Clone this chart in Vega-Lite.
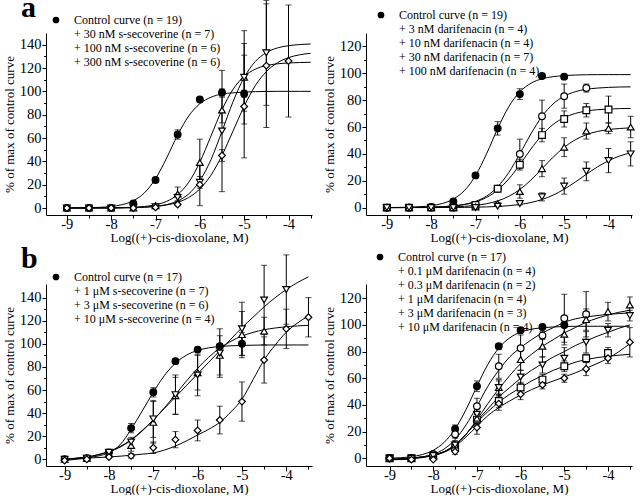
{
"$schema":"https://vega.github.io/schema/vega-lite/v6.json",
"background":"white",
"padding":{"left":3,"top":-8,"right":0,"bottom":0},
"config":{
 "view":{"stroke":null},
 "font":"Liberation Serif",
 "axis":{"labelFont":"Liberation Serif","titleFont":"Liberation Serif","labelFontSize":14.5,"titleFontSize":13,"titleFontWeight":"normal","labelColor":"black","titleColor":"black","domainColor":"black","tickColor":"black","tickWidth":1,"domainWidth":1,"grid":false},
 "axisX":{"labelPadding":-2.5,"titlePadding":0},
 "axisY":{"labelPadding":1,"titlePadding":3},
 "legend":{"labelFont":"Liberation Serif","labelFontSize":12,"labelColor":"black","symbolStrokeColor":"black","symbolStrokeWidth":1,"symbolSize":45,"rowPadding":2,"labelOffset":12,"labelLimit":400,"padding":0,"offset":0}
},
"datasets":{
"a1p":[
{"s":"c","x":-9,"y":0,"e":0},{"s":"c","x":-8.5,"y":0,"e":0},{"s":"c","x":-8,"y":0,"e":0},{"s":"c","x":-7.5,"y":4,"e":1.5},{"s":"c","x":-7,"y":24,"e":2},{"s":"c","x":-6.5,"y":63,"e":4},{"s":"c","x":-6,"y":93,"e":2},{"s":"c","x":-5.5,"y":99,"e":3},{"s":"c","x":-5,"y":98,"e":3},
{"s":"t","x":-9,"y":0,"e":0},{"s":"t","x":-8.5,"y":0,"e":0},{"s":"t","x":-8,"y":0,"e":0},{"s":"t","x":-7.5,"y":0,"e":0},{"s":"t","x":-7,"y":2,"e":1},{"s":"t","x":-6.5,"y":12,"e":6},{"s":"t","x":-6,"y":39,"e":20},{"s":"t","x":-5.5,"y":84,"e":11},{"s":"t","x":-5,"y":112,"e":40},
{"s":"v","x":-9,"y":0,"e":0},{"s":"v","x":-8.5,"y":0,"e":0},{"s":"v","x":-8,"y":0,"e":0},{"s":"v","x":-7.5,"y":0,"e":0},{"s":"v","x":-7,"y":1,"e":0},{"s":"v","x":-6.5,"y":9,"e":3},{"s":"v","x":-6,"y":22,"e":5},{"s":"v","x":-5.5,"y":66,"e":52},{"s":"v","x":-5,"y":112,"e":29},{"s":"v","x":-4.5,"y":133,"e":45},
{"s":"d","x":-9,"y":0,"e":0},{"s":"d","x":-8.5,"y":0,"e":0},{"s":"d","x":-8,"y":0,"e":0},{"s":"d","x":-7.5,"y":0,"e":0},{"s":"d","x":-7,"y":0.5,"e":0},{"s":"d","x":-6.5,"y":3,"e":1},{"s":"d","x":-6,"y":20,"e":18},{"s":"d","x":-5.5,"y":45,"e":5},{"s":"d","x":-5,"y":87,"e":44},{"s":"d","x":-4.5,"y":122,"e":53},{"s":"d","x":-4,"y":126,"e":48}
],
"a1f":[
{"x":-9,"c":0.05,"t":0,"v":0,"d":0.01},{"x":-8.75,"c":0.12,"t":0.01,"v":0.01,"d":0.02},{"x":-8.5,"c":0.26,"t":0.03,"v":0.02,"d":0.03},{"x":-8.25,"c":0.59,"t":0.07,"v":0.04,"d":0.06},{"x":-8,"c":1.31,"t":0.14,"v":0.07,"d":0.1},{"x":-7.75,"c":2.89,"t":0.29,"v":0.15,"d":0.2},{"x":-7.5,"c":6.25,"t":0.62,"v":0.32,"d":0.37},{"x":-7.25,"c":12.99,"t":1.3,"v":0.68,"d":0.72},{"x":-7,"c":25.06,"t":2.73,"v":1.41,"d":1.36},{"x":-6.75,"c":42.8,"t":5.67,"v":2.94,"d":2.59},{"x":-6.5,"c":62.6,"t":11.47,"v":6.03,"d":4.87},{"x":-6.25,"c":78.9,"t":22.1,"v":12.1,"d":9.05},{"x":-6,"c":89.4,"t":39.2,"v":23.3,"d":16.3},{"x":-5.75,"c":94.9,"t":61.6,"v":41.3,"d":28.1},{"x":-5.5,"c":97.7,"t":84.2,"v":65.7,"d":45.1},{"x":-5.25,"c":98.7,"t":101.8,"v":91.2,"d":66.1},{"x":-5,"c":99.4,"t":112.9,"v":111.9,"d":87.2},{"x":-4.75,"c":99.7,"t":119,"v":125.5,"d":104.8},{"x":-4.5,"c":99.9,"t":122.1,"v":133.2,"d":116.9},{"x":-4.25,"c":100,"t":123.6,"v":137.2,"d":124.5},{"x":-4,"c":100,"t":124.3,"v":139.1,"d":128.9},{"x":-3.75,"c":100,"t":124.7,"v":140.1,"d":131.3},{"x":-3.5,"c":100,"t":124.9,"v":140.6,"d":132.6}
],
"a2p":[
{"s":"c","x":-9,"y":0,"e":0},{"s":"c","x":-8.5,"y":0,"e":0},{"s":"c","x":-8,"y":0.5,"e":0},{"s":"c","x":-7.5,"y":4.5,"e":1},{"s":"c","x":-7,"y":24,"e":1.5},{"s":"c","x":-6.5,"y":59,"e":5},{"s":"c","x":-6,"y":84.5,"e":4},{"s":"c","x":-5.5,"y":98,"e":1},{"s":"c","x":-5,"y":97.5,"e":1},
{"s":"o","x":-9,"y":0,"e":0},{"s":"o","x":-8.5,"y":0,"e":0},{"s":"o","x":-8,"y":0,"e":0},{"s":"o","x":-7.5,"y":0,"e":0},{"s":"o","x":-7,"y":2,"e":0},{"s":"o","x":-6.5,"y":14,"e":2},{"s":"o","x":-6,"y":40,"e":11},{"s":"o","x":-5.5,"y":68,"e":12},{"s":"o","x":-5,"y":83,"e":9},{"s":"o","x":-4.5,"y":89,"e":3},
{"s":"q","x":-9,"y":0,"e":0},{"s":"q","x":-8.5,"y":0,"e":0},{"s":"q","x":-8,"y":0,"e":0},{"s":"q","x":-7.5,"y":0,"e":0},{"s":"q","x":-7,"y":2,"e":0},{"s":"q","x":-6.5,"y":14,"e":2},{"s":"q","x":-6,"y":32,"e":4},{"s":"q","x":-5.5,"y":54,"e":5},{"s":"q","x":-5,"y":66,"e":6},{"s":"q","x":-4.5,"y":72.5,"e":5},{"s":"q","x":-4,"y":73,"e":10},
{"s":"t","x":-9,"y":0,"e":0},{"s":"t","x":-8.5,"y":0,"e":0},{"s":"t","x":-8,"y":0,"e":0},{"s":"t","x":-7.5,"y":0,"e":0},{"s":"t","x":-7,"y":0.5,"e":0},{"s":"t","x":-6.5,"y":3,"e":1},{"s":"t","x":-6,"y":12,"e":5},{"s":"t","x":-5.5,"y":29,"e":6},{"s":"t","x":-5,"y":45,"e":7},{"s":"t","x":-4.5,"y":57,"e":6},{"s":"t","x":-4,"y":59,"e":4},{"s":"t","x":-3.5,"y":60,"e":8},
{"s":"v","x":-9,"y":0,"e":0},{"s":"v","x":-8.5,"y":0,"e":0},{"s":"v","x":-8,"y":0,"e":0},{"s":"v","x":-7.5,"y":0,"e":0},{"s":"v","x":-7,"y":0,"e":0},{"s":"v","x":-6.5,"y":1,"e":0},{"s":"v","x":-6,"y":3,"e":1},{"s":"v","x":-5.5,"y":8,"e":3},{"s":"v","x":-5,"y":16,"e":6},{"s":"v","x":-4.5,"y":27,"e":7},{"s":"v","x":-4,"y":35,"e":9},{"s":"v","x":-3.5,"y":40,"e":9}
],
"a2f":[
{"x":-9,"c":0.07,"o":0.02,"q":0.03,"t":0.02,"v":0},{"x":-8.75,"c":0.15,"o":0.04,"q":0.05,"t":0.03,"v":0.01},{"x":-8.5,"c":0.32,"o":0.09,"q":0.1,"t":0.05,"v":0.01},{"x":-8.25,"c":0.68,"o":0.17,"q":0.19,"t":0.09,"v":0.02},{"x":-8,"c":1.44,"o":0.33,"q":0.35,"t":0.17,"v":0.04},{"x":-7.75,"c":3.05,"o":0.64,"q":0.67,"t":0.3,"v":0.07},{"x":-7.5,"c":6.35,"o":1.25,"q":1.24,"t":0.53,"v":0.11},{"x":-7.25,"c":12.7,"o":2.41,"q":2.31,"t":0.94,"v":0.18},{"x":-7,"c":23.8,"o":4.62,"q":4.23,"t":1.66,"v":0.31},{"x":-6.75,"c":40.1,"o":8.62,"q":7.57,"t":2.91,"v":0.52},{"x":-6.5,"c":58.8,"o":15.5,"q":13.1,"t":5.02,"v":0.86},{"x":-6.25,"c":75.1,"o":26.1,"q":21.3,"t":8.4,"v":1.43},{"x":-6,"c":86.2,"o":40,"q":32,"t":13.5,"v":2.34},{"x":-5.75,"c":92.6,"o":54.9,"q":43.6,"t":20.5,"v":3.8},{"x":-5.5,"c":95.9,"o":67.9,"q":54,"t":29,"v":6.03},{"x":-5.25,"c":97.5,"o":77.2,"q":61.9,"t":37.5,"v":9.28},{"x":-5,"c":98.3,"o":83,"q":67,"t":44.9,"v":13.7},{"x":-4.75,"c":98.7,"o":86.3,"q":70.1,"t":50.5,"v":19},{"x":-4.5,"c":98.9,"o":88.1,"q":71.9,"t":54.3,"v":24.8},{"x":-4.25,"c":99,"o":89,"q":72.9,"t":56.7,"v":30.3},{"x":-4,"c":99,"o":89.5,"q":73.4,"t":58.1,"v":34.9},{"x":-3.75,"c":99,"o":89.8,"q":73.7,"t":58.9,"v":38.4},{"x":-3.5,"c":99,"o":89.9,"q":73.8,"t":59.4,"v":40.8}
],
"b1p":[
{"s":"c","x":-9,"y":0,"e":0},{"s":"c","x":-8.5,"y":1,"e":0},{"s":"c","x":-8,"y":6,"e":1},{"s":"c","x":-7.5,"y":27,"e":4},{"s":"c","x":-7,"y":58,"e":4},{"s":"c","x":-6.5,"y":85,"e":1},{"s":"c","x":-6,"y":95,"e":1},{"s":"c","x":-5.5,"y":98,"e":2},{"s":"c","x":-5,"y":100,"e":10},
{"s":"t","x":-9,"y":0,"e":0},{"s":"t","x":-8.5,"y":1,"e":0},{"s":"t","x":-8,"y":5,"e":1},{"s":"t","x":-7.5,"y":12,"e":5},{"s":"t","x":-7,"y":32,"e":18},{"s":"t","x":-6.5,"y":55,"e":16},{"s":"t","x":-6,"y":75,"e":15},{"s":"t","x":-5.5,"y":90,"e":17},{"s":"t","x":-5,"y":108,"e":20},{"s":"t","x":-4.5,"y":111,"e":12},
{"s":"v","x":-9,"y":0,"e":0},{"s":"v","x":-8.5,"y":1,"e":0},{"s":"v","x":-8,"y":6,"e":1},{"s":"v","x":-7.5,"y":15,"e":4},{"s":"v","x":-7,"y":35,"e":16},{"s":"v","x":-6.5,"y":56,"e":17},{"s":"v","x":-6,"y":73,"e":18},{"s":"v","x":-5.5,"y":92,"e":21},{"s":"v","x":-5,"y":113,"e":23},{"s":"v","x":-4.5,"y":138,"e":30},{"s":"v","x":-4,"y":147,"e":30},
{"s":"d","x":-9,"y":-1,"e":0},{"s":"d","x":-8.5,"y":0,"e":0},{"s":"d","x":-8,"y":2,"e":1},{"s":"d","x":-7.5,"y":3,"e":2},{"s":"d","x":-7,"y":10,"e":5},{"s":"d","x":-6.5,"y":17,"e":7},{"s":"d","x":-6,"y":25,"e":9},{"s":"d","x":-5.5,"y":34,"e":12},{"s":"d","x":-5,"y":50,"e":17},{"s":"d","x":-4.5,"y":86,"e":20},{"s":"d","x":-4,"y":113,"e":17},{"s":"d","x":-3.5,"y":123,"e":17}
],
"b1f":[
{"x":-9,"c":0,"t":0,"v":0,"d":-1},{"x":-8.75,"c":0.5,"t":0.8,"v":1,"d":0},{"x":-8.5,"c":1.3,"t":2,"v":2,"d":1},{"x":-8.25,"c":2.8,"t":3.8,"v":4,"d":1.5},{"x":-8,"c":5.8,"t":6.5,"v":7,"d":2},{"x":-7.75,"c":12.5,"t":10.5,"v":11,"d":2.7},{"x":-7.5,"c":26,"t":16.5,"v":17,"d":3.5},{"x":-7.25,"c":41.8,"t":24.5,"v":25,"d":4.5},{"x":-7,"c":58,"t":34.1,"v":34,"d":5.5},{"x":-6.75,"c":72.5,"t":44.6,"v":44,"d":8},{"x":-6.5,"c":83.3,"t":56.1,"v":54,"d":11.5},{"x":-6.25,"c":90.2,"t":67.9,"v":64,"d":16},{"x":-6,"c":94.3,"t":78.8,"v":74,"d":21},{"x":-5.75,"c":96.5,"t":88.4,"v":84,"d":26},{"x":-5.5,"c":97.7,"t":96.2,"v":94,"d":32},{"x":-5.25,"c":98.3,"t":102.2,"v":104,"d":41},{"x":-5,"c":98.6,"t":106.7,"v":114,"d":52},{"x":-4.75,"c":98.8,"t":109.9,"v":123,"d":69},{"x":-4.5,"c":99,"t":112.2,"v":132,"d":86},{"x":-4.25,"c":99,"t":113.7,"v":140,"d":99},{"x":-4,"c":99,"t":114.8,"v":147,"d":110},{"x":-3.75,"c":99,"t":115.5,"v":153,"d":118},{"x":-3.5,"c":99,"t":116,"v":158,"d":124}
],
"b2p":[
{"s":"c","x":-9,"y":0,"e":0},{"s":"c","x":-8.5,"y":0,"e":0},{"s":"c","x":-8,"y":3,"e":0},{"s":"c","x":-7.5,"y":22,"e":3},{"s":"c","x":-7,"y":54,"e":4},{"s":"c","x":-6.5,"y":84,"e":2},{"s":"c","x":-6,"y":96,"e":1},{"s":"c","x":-5.5,"y":98.5,"e":1},{"s":"c","x":-5,"y":100,"e":2},
{"s":"o","x":-9,"y":0,"e":0},{"s":"o","x":-8.5,"y":0,"e":0},{"s":"o","x":-8,"y":3,"e":0},{"s":"o","x":-7.5,"y":18,"e":3},{"s":"o","x":-7,"y":39,"e":6},{"s":"o","x":-6.5,"y":69,"e":9},{"s":"o","x":-6,"y":82.5,"e":10},{"s":"o","x":-5.5,"y":92,"e":3},{"s":"o","x":-5,"y":105,"e":18},{"s":"o","x":-4.5,"y":108,"e":17},
{"s":"q","x":-9,"y":0,"e":0},{"s":"q","x":-8.5,"y":0,"e":0},{"s":"q","x":-8,"y":2,"e":0},{"s":"q","x":-7.5,"y":8,"e":3},{"s":"q","x":-7,"y":29,"e":4},{"s":"q","x":-6.5,"y":43,"e":5},{"s":"q","x":-6,"y":53,"e":4},{"s":"q","x":-5.5,"y":59,"e":4},{"s":"q","x":-5,"y":69,"e":4},{"s":"q","x":-4.5,"y":75,"e":3},{"s":"q","x":-4,"y":79,"e":4},
{"s":"t","x":-9,"y":0,"e":0},{"s":"t","x":-8.5,"y":0,"e":0},{"s":"t","x":-8,"y":2,"e":0},{"s":"t","x":-7.5,"y":10,"e":3},{"s":"t","x":-7,"y":30,"e":4},{"s":"t","x":-6.5,"y":53,"e":6},{"s":"t","x":-6,"y":74,"e":8},{"s":"t","x":-5.5,"y":84,"e":8},{"s":"t","x":-5,"y":93,"e":8},{"s":"t","x":-4.5,"y":104,"e":8},{"s":"t","x":-4,"y":110,"e":7},{"s":"t","x":-3.5,"y":115,"e":6},
{"s":"v","x":-9,"y":0,"e":0},{"s":"v","x":-8.5,"y":0,"e":0},{"s":"v","x":-8,"y":2,"e":0},{"s":"v","x":-7.5,"y":10,"e":3},{"s":"v","x":-7,"y":33,"e":4},{"s":"v","x":-6.5,"y":53,"e":5},{"s":"v","x":-6,"y":61,"e":5},{"s":"v","x":-5.5,"y":70,"e":6},{"s":"v","x":-5,"y":75,"e":8},{"s":"v","x":-4.5,"y":87,"e":8},{"s":"v","x":-4,"y":96,"e":5},{"s":"v","x":-3.5,"y":107,"e":4},
{"s":"d","x":-9,"y":0,"e":0},{"s":"d","x":-8.5,"y":-1,"e":0},{"s":"d","x":-8,"y":-1,"e":0},{"s":"d","x":-7.5,"y":5,"e":2},{"s":"d","x":-7,"y":23,"e":5},{"s":"d","x":-6.5,"y":41,"e":5},{"s":"d","x":-6,"y":48,"e":4},{"s":"d","x":-5.5,"y":55,"e":3},{"s":"d","x":-5,"y":60,"e":3},{"s":"d","x":-4.5,"y":67,"e":5},{"s":"d","x":-4,"y":75,"e":4},{"s":"d","x":-3.5,"y":87,"e":11}
],
"b2f":[
{"x":-9,"c":0,"o":-1,"q":-1,"t":-1,"v":-1,"d":-1},{"x":-8.75,"c":0.4,"o":-0.5,"q":-0.5,"t":-0.5,"v":-0.5,"d":-1},{"x":-8.5,"c":1.2,"o":0,"q":0,"t":0,"v":0,"d":-0.5},{"x":-8.25,"c":2.8,"o":1,"q":1,"t":1,"v":1,"d":0.5},{"x":-8,"c":6,"o":3,"q":2.5,"t":2,"v":2.5,"d":2},{"x":-7.75,"c":12,"o":7,"q":5,"t":5,"v":5,"d":4.5},{"x":-7.5,"c":21.9,"o":14,"q":10,"t":10,"v":10,"d":9},{"x":-7.25,"c":36.5,"o":25,"q":18,"t":18,"v":18,"d":16},{"x":-7,"c":54,"o":39,"q":27,"t":29,"v":28,"d":24},{"x":-6.75,"c":70.4,"o":54,"q":35,"t":41,"v":37,"d":32},{"x":-6.5,"c":82.6,"o":66,"q":42,"t":52,"v":46,"d":38},{"x":-6.25,"c":90.3,"o":76,"q":48,"t":62,"v":53,"d":43},{"x":-6,"c":94.6,"o":83,"q":53,"t":71,"v":60,"d":47.5},{"x":-5.75,"c":96.8,"o":89,"q":58,"t":78,"v":66,"d":51.5},{"x":-5.5,"c":97.9,"o":94,"q":62,"t":84,"v":71,"d":55},{"x":-5.25,"c":98.5,"o":98,"q":66,"t":89,"v":76,"d":58},{"x":-5,"c":98.8,"o":102,"q":69,"t":94,"v":80,"d":61},{"x":-4.75,"c":99,"o":104.5,"q":72,"t":98,"v":84.5,"d":64},{"x":-4.5,"c":99,"o":106,"q":74,"t":102,"v":88,"d":67.5},{"x":-4.25,"c":99,"o":107,"q":75.5,"t":105,"v":91.5,"d":71},{"x":-4,"c":99,"o":108,"q":76.5,"t":107.5,"v":94.5,"d":75},{"x":-3.75,"c":99,"o":108.5,"q":77.3,"t":109.5,"v":97.5,"d":80},{"x":-3.5,"c":99,"o":109,"q":78,"t":111,"v":100,"d":86}
]
},
"columns":2,
"spacing":{"row":69,"column":54},
"bounds":"flush",
"resolve":{"scale":{"x":"independent","y":"independent","shape":"independent","fill":"independent"},"legend":{"shape":"independent","fill":"independent"}},
"concat":[
{"width":266,"height":182,
 "title":{"text":"a","anchor":"start","frame":"group","dx":-25,"offset":-47,"baseline":"alphabetic","fontSize":30,"font":"Liberation Serif","fontWeight":"bold","color":"black"},
 "encoding":{
  "x":{"field":"x","type":"quantitative","scale":{"domain":[-9.47,-3.47],"nice":false,"zero":false},"axis":{"orient":"bottom","values":[-9,-8,-7,-6,-5,-4],"tickSize":5,"labelExpr":"'' + datum.value","title":"Log((+)-cis-dioxolane, M)"}},
  "y":{"field":"y","type":"quantitative","scale":{"domain":[-6,150],"nice":false,"zero":false},"axis":{"orient":"left","values":[0,20,40,60,80,100,120,140],"tickSize":4,"title":"% of max of control curve"}}},
 "layer":[
  {"data":{"name":"a1f"},"transform":[{"fold":["c","t","v","d"],"as":["s","y"]}],"mark":{"type":"line","color":"black","strokeWidth":1,"interpolate":"monotone"},"encoding":{"detail":{"field":"s"}}},
  {"data":{"name":"a1p"},"transform":[{"filter":"datum.e > 0"}],"mark":{"type":"errorbar","color":"black","ticks":{"size":6,"color":"black"},"rule":{"color":"black","strokeWidth":1}},"encoding":{"x":{"field":"x","type":"quantitative","axis":null},"y":{"field":"y","type":"quantitative","axis":null},"yError":{"field":"e"}}},
  {"data":{"name":"a1p"},"mark":{"type":"point","filled":true,"stroke":"black","strokeWidth":1.2,"size":45,"opacity":1},
   "encoding":{
    "x":{"field":"x","type":"quantitative","axis":{"orient":"bottom","values":[-8.5,-7.5,-6.5,-5.5,-4.5,-3.5],"tickSize":3,"labels":false,"domain":false,"title":null}},
    "y":{"field":"y","type":"quantitative","axis":{"orient":"left","values":[10,30,50,70,90,110,130],"tickSize":2.5,"labels":false,"domain":false,"title":null}},
    "shape":{"field":"s","type":"nominal","scale":{"domain":["c","t","v","d"],"range":["circle","triangle-up","triangle-down","diamond"]},"legend":{"title":null,"orient":"none","legendX":4,"legendY":-19,"encode":{"symbols":{"update":{"stroke":{"value":"black"},"strokeWidth":{"value":1.2}}}},"labelExpr":"datum.label == 'c' ? 'Control curve (n = 19)' : datum.label == 't' ? '+ 30 nM s-secoverine (n = 7)' : datum.label == 'v' ? '+ 100 nM s-secoverine (n = 6)' : '+ 300 nM s-secoverine (n = 6)'"}},
    "fill":{"field":"s","type":"nominal","scale":{"domain":["c","t","v","d"],"range":["black","white","white","white"]},"legend":{"title":null,"orient":"none","legendX":4,"legendY":-19,"encode":{"symbols":{"update":{"stroke":{"value":"black"},"strokeWidth":{"value":1.2}}}},"labelExpr":"datum.label == 'c' ? 'Control curve (n = 19)' : datum.label == 't' ? '+ 30 nM s-secoverine (n = 7)' : datum.label == 'v' ? '+ 100 nM s-secoverine (n = 6)' : '+ 300 nM s-secoverine (n = 6)'"}}}}
 ],
 "resolve":{"axis":{"x":"independent","y":"independent"}}
},
{"width":266,"height":182,
 "encoding":{
  "x":{"field":"x","type":"quantitative","scale":{"domain":[-9.47,-3.47],"nice":false,"zero":false},"axis":{"orient":"bottom","values":[-9,-8,-7,-6,-5,-4],"tickSize":5,"labelExpr":"'' + datum.value","title":"Log((+)-cis-dioxolane, M)"}},
  "y":{"field":"y","type":"quantitative","scale":{"domain":[-5.5,130],"nice":false,"zero":false},"axis":{"orient":"left","values":[0,20,40,60,80,100,120],"tickSize":4,"title":"% of max of control curve"}}},
 "layer":[
  {"data":{"name":"a2f"},"transform":[{"fold":["c","o","q","t","v"],"as":["s","y"]}],"mark":{"type":"line","color":"black","strokeWidth":1,"interpolate":"monotone"},"encoding":{"detail":{"field":"s"}}},
  {"data":{"name":"a2p"},"transform":[{"filter":"datum.e > 0"}],"mark":{"type":"errorbar","color":"black","ticks":{"size":6,"color":"black"},"rule":{"color":"black","strokeWidth":1}},"encoding":{"x":{"field":"x","type":"quantitative","axis":null},"y":{"field":"y","type":"quantitative","axis":null},"yError":{"field":"e"}}},
  {"data":{"name":"a2p"},"mark":{"type":"point","filled":true,"stroke":"black","strokeWidth":1.2,"size":45,"opacity":1},
   "encoding":{
    "x":{"field":"x","type":"quantitative","axis":{"orient":"bottom","values":[-8.5,-7.5,-6.5,-5.5,-4.5,-3.5],"tickSize":3,"labels":false,"domain":false,"title":null}},
    "y":{"field":"y","type":"quantitative","axis":{"orient":"left","values":[10,30,50,70,90,110],"tickSize":2.5,"labels":false,"domain":false,"title":null}},
    "shape":{"field":"s","type":"nominal","scale":{"domain":["c","o","q","t","v"],"range":["circle","circle","square","triangle-up","triangle-down"]},"legend":{"title":null,"orient":"none","legendX":9,"legendY":-24,"encode":{"symbols":{"update":{"stroke":{"value":"black"},"strokeWidth":{"value":1.2}}}},"labelExpr":"datum.label == 'c' ? 'Control curve (n = 19)' : datum.label == 'o' ? '+ 3 nM darifenacin (n = 4)' : datum.label == 'q' ? '+ 10 nM darifenacin (n = 4)' : datum.label == 't' ? '+ 30 nM darifenacin (n = 7)' : '+ 100 nM darifenacin (n = 4)'"}},
    "fill":{"field":"s","type":"nominal","scale":{"domain":["c","o","q","t","v"],"range":["black","white","white","white","white"]},"legend":{"title":null,"orient":"none","legendX":9,"legendY":-24,"encode":{"symbols":{"update":{"stroke":{"value":"black"},"strokeWidth":{"value":1.2}}}},"labelExpr":"datum.label == 'c' ? 'Control curve (n = 19)' : datum.label == 'o' ? '+ 3 nM darifenacin (n = 4)' : datum.label == 'q' ? '+ 10 nM darifenacin (n = 4)' : datum.label == 't' ? '+ 30 nM darifenacin (n = 7)' : '+ 100 nM darifenacin (n = 4)'"}}}}
 ],
 "resolve":{"axis":{"x":"independent","y":"independent"}}
},
{"width":266,"height":182,
 "title":{"text":"b","anchor":"start","frame":"group","dx":-25,"offset":-43.5,"baseline":"alphabetic","fontSize":30,"font":"Liberation Serif","fontWeight":"bold","color":"black"},
 "encoding":{
  "x":{"field":"x","type":"quantitative","scale":{"domain":[-9.42,-3.42],"nice":false,"zero":false},"axis":{"orient":"bottom","values":[-9,-8,-7,-6,-5,-4],"tickSize":5,"labelExpr":"'' + datum.value","title":"Log((+)-cis-dioxolane, M)"}},
  "y":{"field":"y","type":"quantitative","scale":{"domain":[-5.8,151.8],"nice":false,"zero":false},"axis":{"orient":"left","values":[0,20,40,60,80,100,120,140],"tickSize":4,"title":"% of max of control curve"}}},
 "layer":[
  {"data":{"name":"b1f"},"transform":[{"fold":["c","t","v","d"],"as":["s","y"]}],"mark":{"type":"line","color":"black","strokeWidth":1,"interpolate":"monotone"},"encoding":{"detail":{"field":"s"}}},
  {"data":{"name":"b1p"},"transform":[{"filter":"datum.e > 0"}],"mark":{"type":"errorbar","color":"black","ticks":{"size":6,"color":"black"},"rule":{"color":"black","strokeWidth":1}},"encoding":{"x":{"field":"x","type":"quantitative","axis":null},"y":{"field":"y","type":"quantitative","axis":null},"yError":{"field":"e"}}},
  {"data":{"name":"b1p"},"mark":{"type":"point","filled":true,"stroke":"black","strokeWidth":1.2,"size":45,"opacity":1},
   "encoding":{
    "x":{"field":"x","type":"quantitative","axis":{"orient":"bottom","values":[-8.5,-7.5,-6.5,-5.5,-4.5,-3.5],"tickSize":3,"labels":false,"domain":false,"title":null}},
    "y":{"field":"y","type":"quantitative","axis":{"orient":"left","values":[10,30,50,70,90,110,130],"tickSize":2.5,"labels":false,"domain":false,"title":null}},
    "shape":{"field":"s","type":"nominal","scale":{"domain":["c","t","v","d"],"range":["circle","triangle-up","triangle-down","diamond"]},"legend":{"title":null,"orient":"none","legendX":4,"legendY":-13,"encode":{"symbols":{"update":{"stroke":{"value":"black"},"strokeWidth":{"value":1.2}}}},"labelExpr":"datum.label == 'c' ? 'Control curve (n = 17)' : datum.label == 't' ? '+ 1 μM s-secoverine (n = 7)' : datum.label == 'v' ? '+ 3 μM s-secoverine (n = 6)' : '+ 10 μM s-secoverine (n = 4)'"}},
    "fill":{"field":"s","type":"nominal","scale":{"domain":["c","t","v","d"],"range":["black","white","white","white"]},"legend":{"title":null,"orient":"none","legendX":4,"legendY":-13,"encode":{"symbols":{"update":{"stroke":{"value":"black"},"strokeWidth":{"value":1.2}}}},"labelExpr":"datum.label == 'c' ? 'Control curve (n = 17)' : datum.label == 't' ? '+ 1 μM s-secoverine (n = 7)' : datum.label == 'v' ? '+ 3 μM s-secoverine (n = 6)' : '+ 10 μM s-secoverine (n = 4)'"}}}}
 ],
 "resolve":{"axis":{"x":"independent","y":"independent"}}
},
{"width":266,"height":182,
 "encoding":{
  "x":{"field":"x","type":"quantitative","scale":{"domain":[-9.54,-3.45],"nice":false,"zero":false},"axis":{"orient":"bottom","values":[-9,-8,-7,-6,-5,-4],"tickSize":5,"labelExpr":"'' + datum.value","title":"Log((+)-cis-dioxolane, M)"}},
  "y":{"field":"y","type":"quantitative","scale":{"domain":[-5.8,130.7],"nice":false,"zero":false},"axis":{"orient":"left","values":[0,20,40,60,80,100,120],"tickSize":4,"title":"% of max of control curve"}}},
 "layer":[
  {"data":{"name":"b2f"},"transform":[{"fold":["c","o","q","t","v","d"],"as":["s","y"]}],"mark":{"type":"line","color":"black","strokeWidth":1,"interpolate":"monotone"},"encoding":{"detail":{"field":"s"}}},
  {"data":{"name":"b2p"},"transform":[{"filter":"datum.e > 0"}],"mark":{"type":"errorbar","color":"black","ticks":{"size":6,"color":"black"},"rule":{"color":"black","strokeWidth":1}},"encoding":{"x":{"field":"x","type":"quantitative","axis":null},"y":{"field":"y","type":"quantitative","axis":null},"yError":{"field":"e"}}},
  {"data":{"name":"b2p"},"mark":{"type":"point","filled":true,"stroke":"black","strokeWidth":1.2,"size":45,"opacity":1},
   "encoding":{
    "x":{"field":"x","type":"quantitative","axis":{"orient":"bottom","values":[-8.5,-7.5,-6.5,-5.5,-4.5,-3.5],"tickSize":3,"labels":false,"domain":false,"title":null}},
    "y":{"field":"y","type":"quantitative","axis":{"orient":"left","values":[10,30,50,70,90,110],"tickSize":2.5,"labels":false,"domain":false,"title":null}},
    "shape":{"field":"s","type":"nominal","scale":{"domain":["c","o","q","t","v","d"],"range":["circle","circle","square","triangle-up","triangle-down","diamond"]},"legend":{"title":null,"orient":"none","legendX":8,"legendY":-33,"encode":{"symbols":{"update":{"stroke":{"value":"black"},"strokeWidth":{"value":1.2}}}},"labelExpr":"datum.label == 'c' ? 'Control curve (n = 17)' : datum.label == 'o' ? '+ 0.1 μM darifenacin (n = 4)' : datum.label == 'q' ? '+ 0.3 μM darifenacin (n = 2)' : datum.label == 't' ? '+ 1 μM darifenacin (n = 4)' : datum.label == 'v' ? '+ 3 μM darifenacin (n = 3)' : '+ 10 μM darifenacin (n = 4)'"}},
    "fill":{"field":"s","type":"nominal","scale":{"domain":["c","o","q","t","v","d"],"range":["black","white","white","white","white","white"]},"legend":{"title":null,"orient":"none","legendX":8,"legendY":-33,"encode":{"symbols":{"update":{"stroke":{"value":"black"},"strokeWidth":{"value":1.2}}}},"labelExpr":"datum.label == 'c' ? 'Control curve (n = 17)' : datum.label == 'o' ? '+ 0.1 μM darifenacin (n = 4)' : datum.label == 'q' ? '+ 0.3 μM darifenacin (n = 2)' : datum.label == 't' ? '+ 1 μM darifenacin (n = 4)' : datum.label == 'v' ? '+ 3 μM darifenacin (n = 3)' : '+ 10 μM darifenacin (n = 4)'"}}}}
 ],
 "resolve":{"axis":{"x":"independent","y":"independent"}}
}
]
}
